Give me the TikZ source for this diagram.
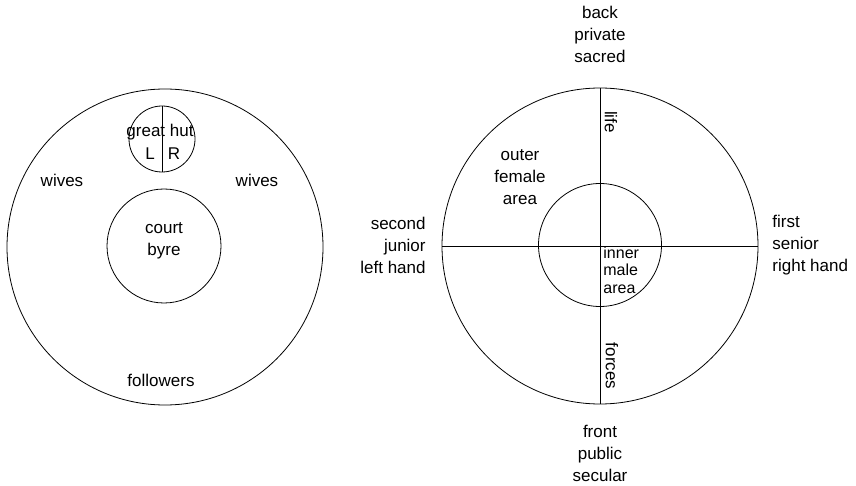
\documentclass[tikz,border=0pt]{standalone}
\usepackage{fontspec}
\setmainfont{Liberation Sans}
\usetikzlibrary{calc}

\tikzset{
    ring/.style={draw, circle, inner sep=0pt, outer sep=0pt, line width=0.8pt},
    lbl/.style={font=\fontsize{17}{22}\selectfont, align=center, inner sep=0pt},
}

\begin{document}
\begin{tikzpicture}[x=1pt, y=-1pt, line width=0.8pt]
    \useasboundingbox (0,0) rectangle (856,486);

    % Define and draw the left plan: homestead with court and great hut
    \node[ring, minimum size=316pt] (lOuter) at (165,247) {};
    \node[ring, minimum size=114pt] (court) at (164,246) {};
    \node[ring, minimum size=66pt] (hut) at (162,139) {};
    \draw (hut.north) -- (hut.south);

    \node[lbl] (hutName) at (160,132) {great hut};
    \node[lbl] (hutL) at (150,154) {L};
    \node[lbl] (hutR) at (174,154) {R};
    \node[lbl] (wivesL) at (62,180) {wives};
    \node[lbl] (wivesR) at (257,180) {wives};
    \node[lbl] (courtName) at (164,241) {court\\byre};
    \node[lbl] (followers) at (161,380) {followers};

    % Define and draw the right plan with its two axes
    \node[ring, minimum size=316pt] (rOuter) at (600,246) {};
    \node[ring, minimum size=123pt] (rInner) at (600,245) {};
    \draw (rOuter.north) -- (rOuter.south);
    \draw (rOuter.west) -- (rOuter.east);

    \node[lbl, rotate=-90] (life) at (611,122) {life};
    \node[lbl, rotate=-90] (forces) at (612,366) {forces};
    \node[lbl] (outerArea) at (520,177) {outer\\female\\area};
    \node[lbl, align=left, anchor=west, font=\fontsize{16}{17.5}\selectfont] (innerArea) at (603,270) {inner\\male\\area};

    % Labels round the right plan
    \node[lbl] (back) at (600,34) {back\\private\\sacred};
    \node[lbl] (front) at (600,453) {front\\public\\secular};
    \node[lbl, align=right, anchor=east] (second) at (426,245) {second\\junior\\left hand};
    \node[lbl, align=left, anchor=west] (first) at (772,245) {first\\senior\\right hand};
\end{tikzpicture}
\end{document}
